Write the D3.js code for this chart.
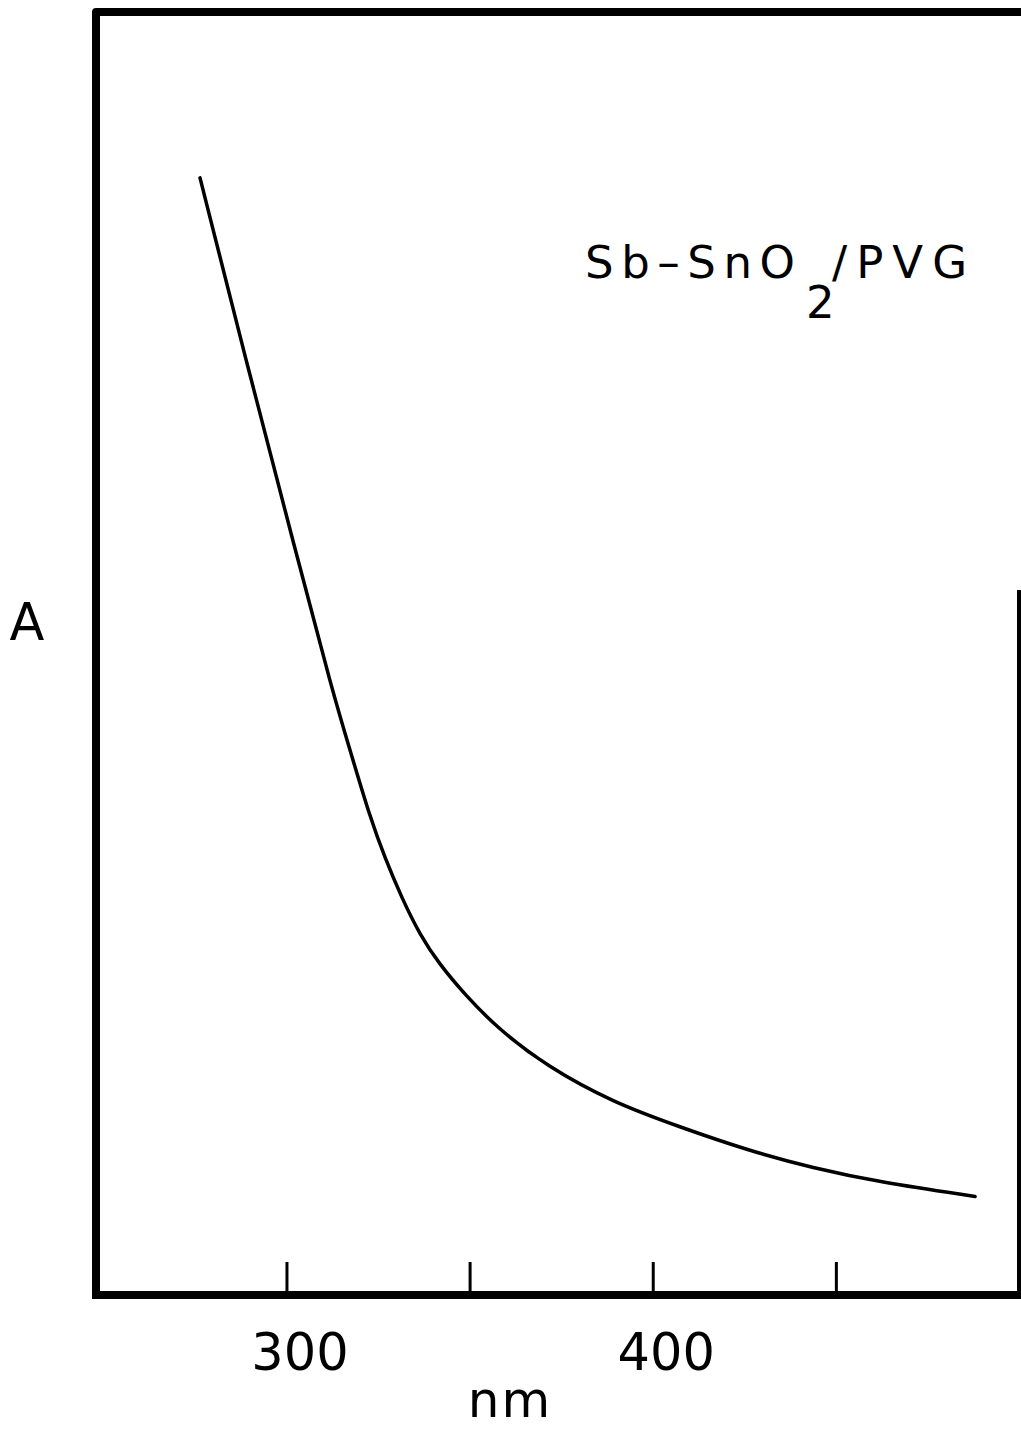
<!DOCTYPE html>
<html>
<head>
<meta charset="utf-8">
<script src="https://cdn.jsdelivr.net/npm/d3@7"></script>
<style>
  body { margin: 0; background: #fff; }
  svg { display: block; }
  text { font-family: "DejaVu Sans", sans-serif; fill: #000; }
</style>
</head>
<body>
<div id="wrapper"></div>
<script>
// wavelength (nm) and absorbance (arbitrary units)
const wavelength = [276.4, 289.5, 302.3, 312.7, 317.9, 322.8, 326.9, 331.5, 336.5, 341.9,
                    348.7, 357.5, 371.1, 389.2, 407.4, 425.7, 443.8, 462.1, 488.0];
const absorbance = [0.871, 0.723, 0.583, 0.470, 0.421, 0.374, 0.342, 0.311, 0.282, 0.259,
                    0.236, 0.210, 0.180, 0.152, 0.133, 0.115, 0.101, 0.090, 0.079];
const tickValues = [300, 350, 400, 450];
const labelledTicks = [300, 400];

const W = 1021, H = 1431;

var svg = d3.select("#wrapper")
  .append("svg")
    .attr("width", W)
    .attr("height", H);

var x = d3.scaleLinear().domain([248, 500]).range([96, 1019]);
var y = d3.scaleLinear().domain([0, 1]).range([1298, 12]);

/* frame: thick left + top + bottom, right side mostly cut off */
svg.append("path")
  .attr("d", "M96,1299 L96,12 L1021,12")
  .attr("fill", "none")
  .attr("stroke", "#000")
  .attr("stroke-width", 8)
  .attr("stroke-linejoin", "round");
svg.append("line")
  .attr("x1", 92).attr("x2", 1021)
  .attr("y1", 1295).attr("y2", 1295)
  .attr("stroke", "#000").attr("stroke-width", 8);
svg.append("line")
  .attr("x1", 1019).attr("x2", 1019)
  .attr("y1", 590).attr("y2", 1299)
  .attr("stroke", "#000").attr("stroke-width", 4);

/* inward ticks on the bottom axis */
var axis = svg.append("g")
  .attr("transform", "translate(0,1295)")
  .call(d3.axisBottom(x)
    .tickValues(tickValues)
    .tickSize(-33)
    .tickFormat(d => labelledTicks.includes(d) ? d3.format("d")(d) : ""));
axis.select(".domain").remove();
axis.selectAll(".tick line")
  .attr("stroke", "#000")
  .attr("stroke-width", 3);
axis.selectAll(".tick text")
  .attr("dx", 13)
  .attr("y", 75)
  .attr("dy", 0)
  .style("font-size", "51px")
  .style("font-family", "'DejaVu Sans', sans-serif")
  .attr("fill", "#000");

/* axis titles */
svg.append("text")
  .attr("x", 510).attr("y", 1417)
  .attr("text-anchor", "middle")
  .style("font-size", "50px")
  .attr("letter-spacing", 2)
  .text("nm");
svg.append("text")
  .attr("x", 27).attr("y", 640)
  .attr("text-anchor", "middle")
  .style("font-size", "51px")
  .text("A");

/* sample label */
svg.append("text")
  .attr("x", 585).attr("y", 278)
  .style("font-size", "45px")
  .attr("textLength", 210)
  .attr("lengthAdjust", "spacing")
  .text("Sb–SnO");
svg.append("text")
  .attr("x", 806).attr("y", 318)
  .style("font-size", "45px")
  .text("2");
svg.append("text")
  .attr("x", 832).attr("y", 278)
  .style("font-size", "45px")
  .attr("textLength", 135)
  .attr("lengthAdjust", "spacing")
  .text("/PVG");

/* spectrum */
var pts = wavelength.map((w, i) => [w, absorbance[i]]);
var line = d3.line()
  .x(d => x(d[0]))
  .y(d => y(d[1]))
  .curve(d3.curveBasis);

svg.append("path")
  .datum(pts)
  .attr("d", line)
  .attr("fill", "none")
  .attr("stroke", "#000")
  .attr("stroke-width", 3.5)
  .attr("stroke-linecap", "round");
</script>
</body>
</html>
